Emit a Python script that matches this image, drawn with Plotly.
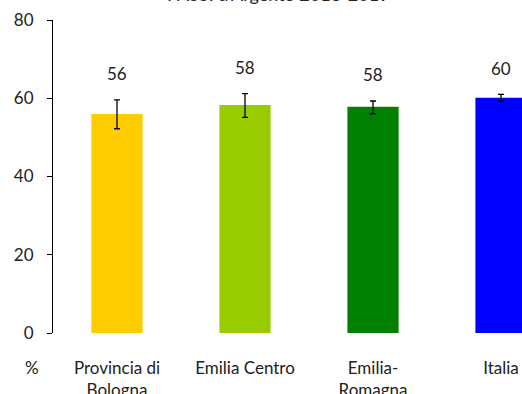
import plotly.graph_objects as go

categories = ["Provincia di<br>Bologna", "Emilia Centro", "Emilia-<br>Romagna", "Italia"]
values = [56.0, 58.3, 57.8, 60.1]
err_upper = [59.6, 61.2, 59.3, 61.0]
err_lower = [52.2, 55.1, 56.0, 59.3]
labels = ["56", "58", "58", "60"]
colors = ["#FFCC00", "#99CC00", "#008000", "#0000FF"]
title_text = "PASSI d'Argento 2016-2019"

FONT = "Lato"
FS = 17

fig = go.Figure()
fig.add_trace(go.Bar(
    x=categories, y=values,
    marker=dict(color=colors, line=dict(width=0)),
    width=0.4,
    error_y=dict(
        type="data", symmetric=False,
        array=[u - v for u, v in zip(err_upper, values)],
        arrayminus=[v - l for v, l in zip(values, err_lower)],
        color="black", thickness=1.3, width=3,
    ),
    showlegend=False,
))

for c, u, t in zip(categories, err_upper, labels):
    fig.add_annotation(x=c, y=u, text=t, showarrow=False, yanchor="middle",
                       yshift=26, font=dict(family=FONT, size=FS, color="#222"))

fig.add_annotation(xref="paper", yref="paper", x=-0.045, y=-0.11, text="%",
                   showarrow=False, xanchor="center", yanchor="middle",
                   font=dict(family=FONT, size=FS, color="#222"))

fig.add_annotation(xref="paper", yref="paper", x=0.48, y=1.041, text=title_text,
                   showarrow=False, xanchor="center", yanchor="bottom",
                   font=dict(family=FONT, size=18, color="#222"))

fig.update_layout(
    width=522, height=394,
    margin=dict(l=53, r=0, t=20, b=61),
    paper_bgcolor="white", plot_bgcolor="white",
    font=dict(family=FONT, size=FS, color="#222"),
    xaxis=dict(range=[-0.5, 3.164], showline=False, ticks="", showgrid=False,
               ticklabelstandoff=23, tickfont=dict(size=FS), automargin=False),
    yaxis=dict(range=[0, 80], tickvals=[0, 20, 40, 60, 80], showgrid=False,
               zeroline=False, showline=True, linecolor="black", linewidth=1,
               ticks="outside", ticklen=5, tickcolor="black",
               ticklabelstandoff=10, tickfont=dict(size=FS), automargin=False),
    bargap=0.6,
)

fig.write_html("out.html", config={"displayModeBar": False},
               post_script="document.body.style.margin='0px';document.body.style.overflow='hidden';")
